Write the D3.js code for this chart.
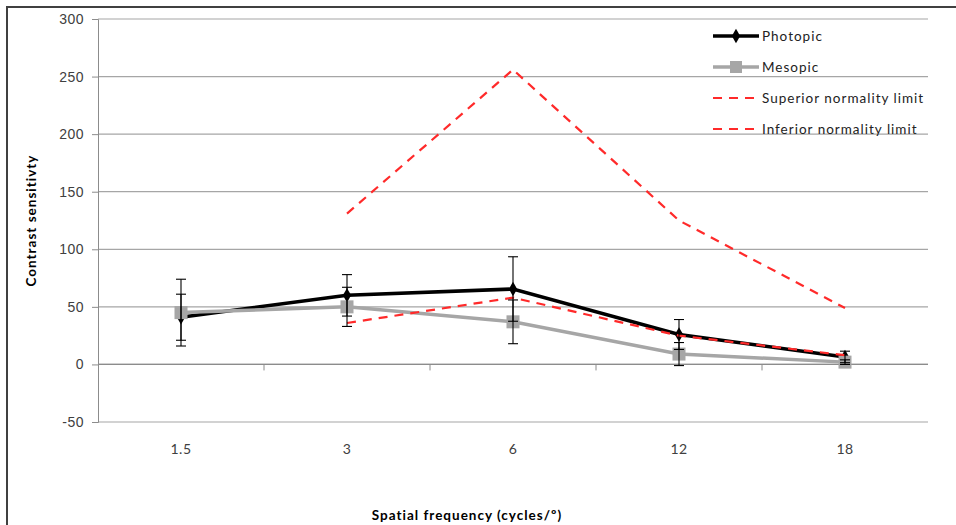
<!DOCTYPE html>
<html>
<head>
<meta charset="utf-8">
<script src="https://cdn.jsdelivr.net/npm/d3@7"></script>
<style>
  body { margin: 0; background: #fff; }
  svg { display: block; font-family: Lato, "Open Sans", sans-serif; }
</style>
</head>
<body>
<div id="chart"></div>
<script>
// contrast sensitivity by spatial frequency
const freqs = ["1.5", "3", "6", "12", "18"];
const photopic = [41, 60, 65.5, 26, 6.5];
const photopicErr = [20, 18, 28, 13, 5];
const mesopic = [45, 50, 37, 9, 2];
const mesopicErr = [29, 17, 19, 10, 2];
// normality limits start at 3 cycles/deg
const superiorFreqs = ["3", "6", "12", "18"];
const superior = [131, 256, 125, 49];
const inferior = [36, 58, 25, 8];
const yTicks = [-50, 0, 50, 100, 150, 200, 250, 300];

const Wd = 956, Ht = 525;
const M = { left: 98, right: 28, top: 19, bottom: 103 };

const svg = d3.select("#chart").append("svg")
  .attr("width", Wd).attr("height", Ht);

// outer chart frame (only top/left visible in original)
svg.append("path")
  .attr("d", `M7,${Ht} V7 H${Wd}`)
  .attr("fill", "none").attr("stroke", "#404040").attr("stroke-width", 2);

const x = d3.scaleBand().domain(freqs).range([M.left, Wd - M.right]);
const y = d3.scaleLinear().domain([-50, 300]).range([Ht - M.bottom, M.top]);
const cx = d => x(d) + x.bandwidth() / 2;

// gridlines
svg.append("g").selectAll("line").data(yTicks).join("line")
  .attr("x1", M.left).attr("x2", Wd - M.right)
  .attr("y1", d => y(d)).attr("y2", d => y(d))
  .attr("stroke", "#a6a6a6").attr("stroke-width", 1.2);

// y axis with minor ticks
const gY = svg.append("g").attr("transform", `translate(${M.left},0)`);
gY.call(d3.axisLeft(y).tickValues(d3.range(-50, 301, 10)).tickSize(3).tickFormat(""));
gY.call(d3.axisLeft(y).tickValues(yTicks).tickSize(6).tickPadding(8).tickFormat(d => String(d)));
gY.selectAll(".domain, line").attr("stroke", "#8c8c8c");
gY.selectAll("text").attr("font-size", 14).attr("letter-spacing", 0.5).attr("fill", "#404040");

// category axis crossing at y = 0, ticks at band edges
const gX = svg.append("g").attr("transform", `translate(0,${y(0)})`);
gX.append("line").attr("x1", M.left).attr("x2", Wd - M.right)
  .attr("stroke", "#8c8c8c").attr("stroke-width", 1.2);
gX.selectAll("line.tk").data(freqs.slice(1)).join("line")
  .attr("class", "tk")
  .attr("x1", d => x(d)).attr("x2", d => x(d))
  .attr("y1", 0).attr("y2", 6).attr("stroke", "#8c8c8c");

// category labels at the bottom
svg.append("g").selectAll("text").data(freqs).join("text")
  .attr("x", d => cx(d)).attr("y", y(-50) + 32)
  .attr("text-anchor", "middle").attr("font-size", 14).attr("letter-spacing", 0.5)
  .attr("fill", "#404040")
  .text(d => d);

// axis titles
svg.append("text")
  .attr("transform", `translate(36,${(y(300) + y(-50)) / 2}) rotate(-90)`)
  .attr("text-anchor", "middle").attr("font-size", 13.5).attr("font-weight", "bold")
  .attr("letter-spacing", 1)
  .text("Contrast sensitivty");
svg.append("text")
  .attr("x", 467).attr("y", 520)
  .attr("text-anchor", "middle").attr("font-size", 13.5).attr("font-weight", "bold")
  .attr("letter-spacing", 1)
  .text("Spatial frequency (cycles/º)");

const line = d3.line().x(d => cx(d[0])).y(d => y(d[1]));

// photopic
svg.append("path")
  .datum(freqs.map((f, i) => [f, photopic[i]]))
  .attr("d", line).attr("fill", "none")
  .attr("stroke", "#000").attr("stroke-width", 3.5);
svg.append("g").selectAll("path").data(freqs).join("path")
  .attr("d", d3.symbol(d3.symbolDiamond, 60))
  .attr("transform", (d, i) => `translate(${cx(d)},${y(photopic[i])})`)
  .attr("fill", "#000");

// mesopic
svg.append("path")
  .datum(freqs.map((f, i) => [f, mesopic[i]]))
  .attr("d", line).attr("fill", "none")
  .attr("stroke", "#a6a6a6").attr("stroke-width", 3.5);
svg.append("g").selectAll("rect").data(freqs).join("rect")
  .attr("x", d => cx(d) - 6.5).attr("y", (d, i) => y(mesopic[i]) - 6.5)
  .attr("width", 13).attr("height", 13).attr("fill", "#a6a6a6");

// normality limits
[superior, inferior].forEach(vals => {
  svg.append("path")
    .datum(superiorFreqs.map((f, i) => [f, vals[i]]))
    .attr("d", line).attr("fill", "none")
    .attr("stroke", "#ff2a2a").attr("stroke-width", 2.2)
    .attr("stroke-dasharray", "9,7");
});

// error bars
function errBars(vals, errs) {
  const g = svg.append("g").attr("stroke", "#000").attr("stroke-width", 1.1);
  freqs.forEach((f, i) => {
    const x0 = cx(f), hi = y(vals[i] + errs[i]), lo = y(vals[i] - errs[i]);
    g.append("line").attr("x1", x0).attr("x2", x0).attr("y1", hi).attr("y2", lo);
    [hi, lo].forEach(yy => g.append("line")
      .attr("x1", x0 - 5).attr("x2", x0 + 5).attr("y1", yy).attr("y2", yy));
  });
}
errBars(photopic, photopicErr);
errBars(mesopic, mesopicErr);

// legend
const legend = [
  { name: "Photopic", color: "#000", dash: null, mark: "diamond" },
  { name: "Mesopic", color: "#a6a6a6", dash: null, mark: "square" },
  { name: "Superior normality limit", color: "#ff2a2a", dash: "9,7", mark: null },
  { name: "Inferior normality limit", color: "#ff2a2a", dash: "9,7", mark: null }
];
const lg = svg.append("g").selectAll("g").data(legend).join("g")
  .attr("transform", (d, i) => `translate(713,${36 + i * 31})`);
lg.append("line").attr("x1", 0).attr("x2", 46)
  .attr("stroke", d => d.color)
  .attr("stroke-width", d => d.dash ? 2.2 : 3.5)
  .attr("stroke-dasharray", d => d.dash);
lg.filter(d => d.mark === "diamond").append("path")
  .attr("d", d3.symbol(d3.symbolDiamond, 60)).attr("transform", "translate(23,0)");
lg.filter(d => d.mark === "square").append("rect")
  .attr("x", 17).attr("y", -6).attr("width", 12).attr("height", 12).attr("fill", "#a6a6a6");
lg.append("text").attr("x", 49).attr("y", 5)
  .attr("font-size", 13.5).attr("letter-spacing", 1).attr("fill", "#222").text(d => d.name);
</script>
</body>
</html>
